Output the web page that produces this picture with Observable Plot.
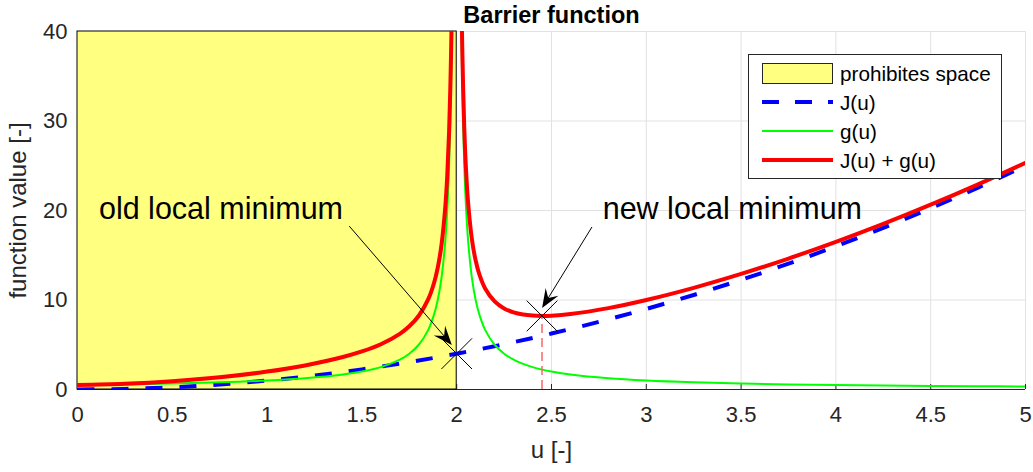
<!DOCTYPE html>
<html><head><meta charset="utf-8">
<script src="https://cdn.jsdelivr.net/npm/d3@7"></script>
<script src="https://cdn.jsdelivr.net/npm/@observablehq/plot@0.6"></script>
<style>
body{margin:0;background:#fff;}
#wrap{position:relative;width:1033px;height:472px;font-family:"Liberation Sans",Arial,sans-serif;}
#legend{position:absolute;left:0;top:0;}
</style></head><body><div id="wrap"></div>
<script>
// ---- data ----
const xTicks = [0,0.5,1,1.5,2,2.5,3,3.5,4,4.5,5];
const xTickLabels = ["0","0.5","1","1.5","2","2.5","3","3.5","4","4.5","5"];
const yTicks = [0,10,20,30,40];
const yTickLabels = ["0","10","20","30","40"];

// J(u)
const uJ = [0,0.25,0.5,0.75,1,1.25,1.5,1.75,2,2.25,2.5,2.75,3,3.25,3.5,3.75,4,4.25,4.5,4.75,5];
const J  = [0,0.0625,0.25,0.5625,1,1.5625,2.25,3.0625,4,5.0625,6.25,7.5625,9,10.5625,12.25,14.0625,16,18.0625,20.25,22.5625,25];

// left branch (u < 2)
const uL   = [0,0.25,0.5,0.75,1,1.2,1.4,1.5,1.6,1.7,1.75,1.8,1.85,1.88,1.9,1.92,1.94,1.95,1.96,1.97,1.975,1.98];
const gL   = [0.5,0.5714,0.6667,0.8,1,1.25,1.6667,2,2.5,3.3333,4,5,6.6667,8.3333,10,12.5,16.667,20,25,33.333,40,50];
const sumL = [0.5,0.6339,0.9167,1.3625,2,2.69,3.6267,4.25,5.06,6.2233,7.0625,8.24,10.089,11.868,13.61,16.186,20.43,23.803,28.842,37.214,43.901,53.92];

// right branch (u > 2)
const uR   = [2.02,2.025,2.03,2.04,2.05,2.06,2.08,2.1,2.12,2.15,2.2,2.25,2.3,2.35,2.4,2.45,2.5,2.6,2.8,3,3.25,3.5,3.75,4,4.25,4.5,4.75,5];
const gR   = [50,40,33.333,25,20,16.667,12.5,10,8.3333,6.6667,5,4,3.3333,2.8571,2.5,2.2222,2,1.6667,1.25,1,0.8,0.6667,0.5714,0.5,0.4444,0.4,0.3636,0.3333];
const sumR = [54.08,44.101,37.454,29.162,24.203,20.91,16.826,14.41,12.828,11.289,9.84,9.0625,8.6233,8.3796,8.26,8.2247,8.25,8.4267,9.09,10,11.3625,12.9167,14.6339,16.5,18.5069,20.65,22.9261,25.3333];

// prohibited region
const regionU = [0, 2];
const regionV = [0, 40];

// minima markers
const minU = [2, 2.45];
const minV = [4, 8.22];

// annotations
const annText = ["old local minimum", "new local minimum"];
const annU = [0.113, 2.77];
const annV = [19.0, 19.0];
const arrowU1 = [1.436, 2.716];
const arrowV1 = [18.2, 18.1];
const arrowU2 = [1.977, 2.453];
const arrowV2 = [4.92, 9.05];

const legendLabels = ["prohibites space", "J(u)", "g(u)", "J(u) + g(u)"];

// ---- build tables ----
const jData = uJ.map((u, i) => ({u, v: J[i]}));
const gData = [...uL.map((u, i) => ({u, v: gL[i], b: "L"})), ...uR.map((u, i) => ({u, v: gR[i], b: "R"}))];
const sData = [...uL.map((u, i) => ({u, v: sumL[i], b: "L"})), ...uR.map((u, i) => ({u, v: sumR[i], b: "R"}))];
const mData = minU.map((u, i) => ({u, v: minV[i]}));
const aData = annText.map((t, i) => ({t, u: annU[i], v: annV[i]}));

const W = 1033, H = 472, mL = 77, mR = 8, mT = 31, mB = 83;
const fw = W - mL - mR, fh = H - mT - mB;
const font = "Liberation Sans";

function arrowMark(index, scales) {
  const g = d3.create("svg:g");
  for (let i = 0; i < arrowU1.length; i++) {
    const x1 = scales.x(arrowU1[i]), y1 = scales.y(arrowV1[i]);
    const x2 = scales.x(arrowU2[i]), y2 = scales.y(arrowV2[i]);
    const a = Math.atan2(y2 - y1, x2 - x1);
    const L = 19, Wd = 7.5, N = 0.62 * L;
    const ca = Math.cos(a), sa = Math.sin(a);
    const pt = (bx, by) => [x2 + bx * ca - by * sa, y2 + bx * sa + by * ca];
    const nb = pt(-N, 0);
    g.append("line").attr("x1", x1).attr("y1", y1).attr("x2", nb[0]).attr("y2", nb[1])
      .attr("stroke", "black").attr("stroke-width", 1);
    const p = [pt(0, 0), pt(-L, -Wd), nb, pt(-L, Wd)];
    g.append("path").attr("d", "M" + p.map(q => q.join(",")).join("L") + "Z").attr("fill", "black");
  }
  return g.node();
}

const plot = Plot.plot({
  width: W, height: H,
  marginLeft: mL, marginRight: mR, marginTop: mT, marginBottom: mB,
  style: {fontFamily: font, fontSize: "22px", color: "#262626", background: "white", overflow: "visible"},
  x: {domain: [0, 5], axis: null},
  y: {domain: [0, 40], axis: null},
  marks: [
    Plot.gridX(xTicks, {stroke: "#e2e2e2", strokeOpacity: 1}),
    Plot.gridY(yTicks, {stroke: "#e2e2e2", strokeOpacity: 1}),
    Plot.tickX(xTicks, {x: d => d, insetTop: fh - 5, stroke: "#262626"}),
    Plot.ruleY([0], {stroke: "#262626"}),
    Plot.ruleX([0], {stroke: "#262626"}),
    Plot.axisX(xTicks, {tickSize: 0, tickPadding: 17, fontSize: 22, fill: "#262626", label: null, tickFormat: d => xTickLabels[xTicks.indexOf(d)]}),
    Plot.axisY(yTicks, {tickSize: 0, tickPadding: 10, fontSize: 22, fill: "#262626", label: null, tickFormat: d => yTickLabels[yTicks.indexOf(d)]}),
    Plot.rect([0], {x1: () => regionU[0], x2: () => regionU[1], y1: () => regionV[0], y2: () => regionV[1], fill: "#ffff80", stroke: "black", strokeWidth: 1}),
    Plot.line(jData, {x: "u", y: "v", stroke: "#0000ff", strokeWidth: 4, strokeDasharray: "17,17", strokeLinecap: "butt", curve: "catmull-rom", clip: true}),
    Plot.line(gData, {x: "u", y: "v", z: "b", stroke: "#00ff00", strokeWidth: 2, curve: "catmull-rom", clip: true}),
    Plot.line(sData, {x: "u", y: "v", z: "b", stroke: "#ff0000", strokeWidth: 4, curve: "catmull-rom", clip: true}),
    Plot.ruleX([mData[1]], {x: "u", y1: 0, y2: "v", stroke: "#f26a6a", strokeWidth: 1.5, strokeDasharray: "9,5"}),
    Plot.dot(mData, {x: "u", y: "v", symbol: "times", r: 14, stroke: "black", strokeWidth: 1}),
    arrowMark,
    Plot.text(aData, {x: "u", y: "v", text: "t", textAnchor: "start", lineAnchor: "bottom", fontSize: 30.5, fill: "black"}),
    Plot.text(["Barrier function"], {frameAnchor: "top", lineAnchor: "bottom", dy: -9, fontSize: 23.5, fontWeight: "bold", fill: "black"}),
    Plot.text(["u [-]"], {frameAnchor: "bottom", lineAnchor: "bottom", dy: 68, fontSize: 24, fill: "#262626"}),
    Plot.text(["function value [-]"], {frameAnchor: "left", textAnchor: "middle", lineAnchor: "bottom", rotate: -90, dx: -52, fontSize: 24, fill: "#262626"})
  ]
});
const wrap = document.getElementById("wrap");
wrap.appendChild(plot);

// legend overlay
const lg = d3.select(wrap).append("svg").attr("id", "legend").attr("width", W).attr("height", H)
  .style("font-family", font);
lg.append("rect").attr("x", 748.5).attr("y", 54.5).attr("width", 253).attr("height", 124)
  .attr("fill", "white").attr("stroke", "#262626").attr("stroke-width", 1);
const rowY = [73.5, 102, 131, 160];
lg.append("rect").attr("x", 762.5).attr("y", 63.5).attr("width", 70).attr("height", 20)
  .attr("fill", "#ffff80").attr("stroke", "#262626");
const sw = [null, {c: "#0000ff", w: 4, d: "17,16"}, {c: "#00ff00", w: 2, d: null}, {c: "#ff0000", w: 4, d: null}];
sw.forEach((s, i) => {
  if (!s) return;
  lg.append("line").attr("x1", 762).attr("x2", 833).attr("y1", rowY[i]).attr("y2", rowY[i])
    .attr("stroke", s.c).attr("stroke-width", s.w).attr("stroke-dasharray", s.d);
});
legendLabels.forEach((t, i) => {
  lg.append("text").attr("x", 840).attr("y", rowY[i] + 7.5).attr("font-size", 20.7).attr("fill", "black").text(t);
});
</script></body></html>
